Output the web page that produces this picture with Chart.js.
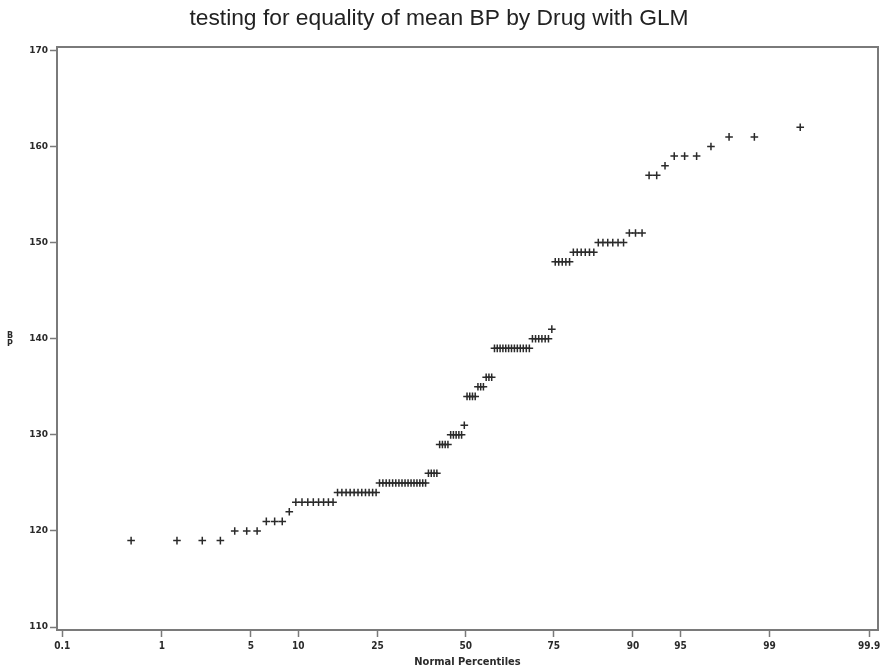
<!DOCTYPE html>
<html>
<head>
<meta charset="utf-8">
<script src="https://cdn.jsdelivr.net/npm/chart.js@4.4.0/dist/chart.umd.min.js"></script>
<style>
  html, body { margin: 0; padding: 0; background: #ffffff; }
  #wrap { width: 886px; height: 671px; }
</style>
</head>
<body>
<div id="wrap"><canvas id="c" width="886" height="671"></canvas></div>
<script>
// Normal probability plot of BP
const chartTitle = 'testing for equality of mean BP by Drug with GLM';
const xAxisTitle = 'Normal Percentiles';
const yAxisTitle = ['B', 'P'];

// Observed BP values (sorted) and how many observations share each value
const bpLevels = [119, 120, 121, 122, 123, 124, 125, 126, 129, 130, 131, 134, 135, 136,
                  139, 140, 141, 148, 149, 150, 151, 157, 158, 159, 160, 161, 162];
const bpCounts = [4, 3, 3, 1, 8, 11, 16, 4, 4, 5, 1, 4, 3, 3,
                  13, 6, 1, 5, 6, 6, 3, 2, 1, 3, 1, 2, 1];

// Axis ticks
const percentileTicks = [0.1, 1, 5, 10, 25, 50, 75, 90, 95, 99, 99.9];
const bpTicks = [110, 120, 130, 140, 150, 160, 170];

// Inverse standard normal CDF (Acklam's rational approximation)
function probit(p) {
  const a = [-3.969683028665376e+01, 2.209460984245205e+02, -2.759285104469687e+02,
             1.383577518672690e+02, -3.066479806614716e+01, 2.506628277459239e+00];
  const b = [-5.447609879822406e+01, 1.615858368580409e+02, -1.556989798598866e+02,
             6.680131188771972e+01, -1.328068155288572e+01];
  const c = [-7.784894002430293e-03, -3.223964580411365e-01, -2.400758277161838e+00,
             -2.549732539343734e+00, 4.374664141464968e+00, 2.938163982698783e+00];
  const d = [7.784695709041462e-03, 3.224671290700398e-01, 2.445134137142996e+00,
             3.754408661907416e+00];
  const pl = 0.02425, ph = 1 - pl;
  let q, r;
  if (p < pl) {
    q = Math.sqrt(-2 * Math.log(p));
    return (((((c[0]*q + c[1])*q + c[2])*q + c[3])*q + c[4])*q + c[5]) /
           ((((d[0]*q + d[1])*q + d[2])*q + d[3])*q + 1);
  }
  if (p > ph) {
    q = Math.sqrt(-2 * Math.log(1 - p));
    return -(((((c[0]*q + c[1])*q + c[2])*q + c[3])*q + c[4])*q + c[5]) /
            ((((d[0]*q + d[1])*q + d[2])*q + d[3])*q + 1);
  }
  q = p - 0.5; r = q * q;
  return (((((a[0]*r + a[1])*r + a[2])*r + a[3])*r + a[4])*r + a[5]) * q /
         (((((b[0]*r + b[1])*r + b[2])*r + b[3])*r + b[4])*r + 1);
}

// Expand to individual observations and place each at its Blom normal score
const bpSorted = [];
bpLevels.forEach((v, k) => { for (let j = 0; j < bpCounts[k]; j++) bpSorted.push(v); });
const nObs = bpSorted.length;
const plotPoints = bpSorted.map((v, i) => ({ x: probit((i + 1 - 0.375) / (nObs + 0.25)), y: v }));

const frameColor = '#7a7a7a';
const inkColor = '#2a2a2a';

// Box around the plotting area plus the stacked vertical axis label
const framePlugin = {
  id: 'frame',
  afterDraw(chart) {
    const { ctx, chartArea: a } = chart;
    ctx.save();
    ctx.strokeStyle = frameColor;
    ctx.lineWidth = 2;
    ctx.strokeRect(a.left, a.top, a.right - a.left, a.bottom - a.top);
    ctx.fillStyle = inkColor;
    ctx.font = 'bold 8px "DejaVu Sans", sans-serif';
    ctx.textAlign = 'center';
    ctx.textBaseline = 'middle';
    yAxisTitle.forEach((ch, k) => ctx.fillText(ch, 10, 336 + k * 8));
    ctx.restore();
  }
};

new Chart(document.getElementById('c'), {
  type: 'scatter',
  data: {
    datasets: [{
      data: plotPoints,
      pointStyle: 'cross',
      pointRadius: 3.8,
      pointHoverRadius: 3.8,
      borderWidth: 1.5,
      borderColor: inkColor,
      backgroundColor: inkColor
    }]
  },
  options: {
    responsive: false,
    animation: false,
    devicePixelRatio: 1,
    events: [],
    layout: { padding: { left: 0, right: 8, top: 0, bottom: 0 } },
    plugins: {
      legend: { display: false },
      tooltip: { enabled: false },
      title: {
        display: true,
        text: chartTitle,
        color: '#222222',
        font: { family: '"Liberation Sans", Arial, sans-serif', size: 22.8, weight: 'normal', lineHeight: 1.2 },
        padding: { top: 4.8, bottom: 14.84 }
      }
    },
    scales: {
      x: {
        type: 'linear',
        min: -3.13,
        max: 3.158,
        afterBuildTicks(scale) {
          scale.ticks = percentileTicks.map(p => ({ value: probit(p / 100) }));
        },
        afterFit(scale) { scale.height = 41; },
        ticks: {
          autoSkip: false,
          maxRotation: 0,
          padding: 3,
          color: inkColor,
          font: { family: '"DejaVu Sans Condensed", "Liberation Sans Narrow", sans-serif', size: 10, weight: 'bold' },
          callback: (value, index) => String(percentileTicks[index])
        },
        grid: { drawOnChartArea: false, drawTicks: true, tickLength: 7, tickColor: frameColor, tickWidth: 1.5 },
        border: { display: false },
        title: {
          display: true,
          text: xAxisTitle,
          color: inkColor,
          font: { family: '"DejaVu Sans Condensed", "Liberation Sans Narrow", sans-serif', size: 11, weight: 'bold' },
          padding: { top: 0, bottom: 2 }
        }
      },
      y: {
        type: 'linear',
        min: 109.7,
        max: 170.35,
        afterBuildTicks(scale) {
          scale.ticks = bpTicks.map(v => ({ value: v }));
        },
        afterFit(scale) { scale.width = 57; },
        ticks: {
          padding: 2,
          color: inkColor,
          font: { family: '"DejaVu Sans", sans-serif', size: 9, weight: 'bold' }
        },
        grid: { drawOnChartArea: false, drawTicks: true, tickLength: 7, tickColor: frameColor, tickWidth: 1.5 },
        border: { display: false }
      }
    }
  },
  plugins: [framePlugin]
});
</script>
</body>
</html>
